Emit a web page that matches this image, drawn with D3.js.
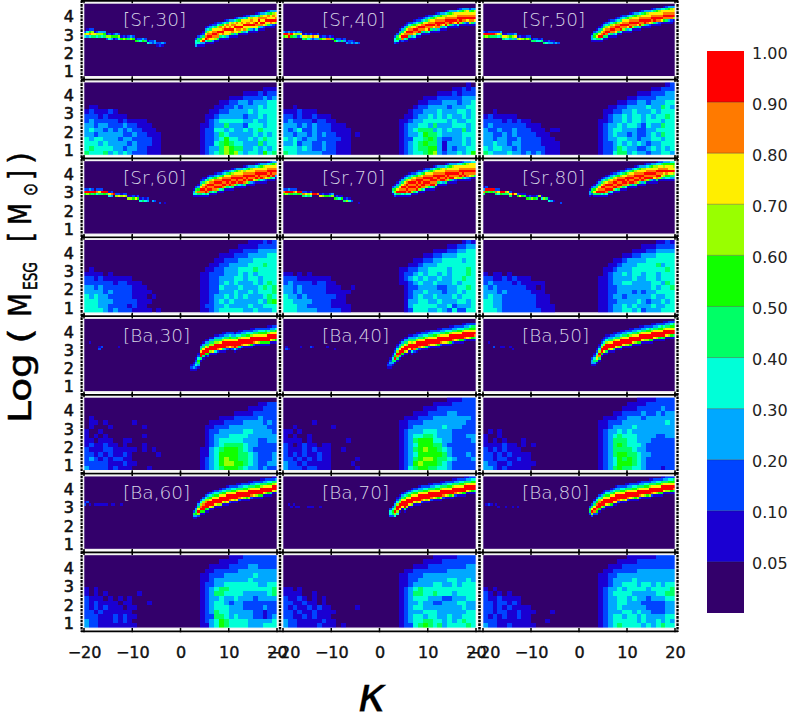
<!DOCTYPE html>
<html>
<head>
<meta charset="utf-8">
<script src="https://cdn.jsdelivr.net/npm/d3@7"></script>
<style>
  html, body { margin: 0; padding: 0; background: #fff; }
  svg { display: block; }
  text { font-family: "DejaVu Sans", sans-serif; fill: #111; }
</style>
</head>
<body>
<div id="chart"></div>
<script>
// colour bar
const thresholds = [0.05, 0.1, 0.2, 0.3, 0.4, 0.5, 0.6, 0.7, 0.8, 0.9];
const bandColors = ["#33006b", "#1a00d2", "#0044ff", "#00a8ff", "#00ffd8", "#00ff66", "#11ff00", "#99ff00", "#ffee00", "#ff7a00", "#ff0000"];
const barLabels = ["0.05", "0.10", "0.20", "0.30", "0.40", "0.50", "0.60", "0.70", "0.80", "0.90", "1.00"];
// middle of each band, indexed by the level character used in the panel strings
const levelChars = ".123456789a";
const levelValues = [0.02, 0.075, 0.15, 0.25, 0.35, 0.45, 0.55, 0.65, 0.75, 0.85, 0.95];

const elements = ["Sr", "Ba"];
const masses = [30, 40, 50, 60, 70, 80];
const xTicks = [-20, -10, 0, 10, 20];
const yTicks = [1, 2, 3, 4];

// upper panels, fine bins (0.5 in kappa, 0.125 in log M), one token per column: "firstRow:levels"
// "@n" jumps to column n, "*n" skips n columns
const sr30Ridge = "12:274 11:1483 11:2694 11:2785 12:185 12:274 12:375 12:374 12:365 13:172 13:274 13:163 13:261 13:362 13:274 14:16 14:27 14:16 14:25 14:37 14:26 15:16 15:25 15:24 15:36 15:25 16:14 16:23 16:22 16:33 17:21 17:22 17:31 17:2 @46 15:2443 14:25541 13:136831 12:1258a31 10:13589a41 10:2479a951 9:13589a851 9:2489a9831 8:12589a971 8:2478a9951 8:2598a851 8:3689a941 7:1489a8851 7:2598a8831 7:3889a871 7:3798a951 6:1489a8831 6:2598a9851 6:3688a971 6:3898a851 5:1488a8931 5:2589a8741 5:2889a851 5:3798a831 5:3889a821 4:1488a9841 4:259a8951 4:3798a931 4:3898a821 3:1489a871 3:2598a851 3:3688a931 3:3798a821 3:3889a71";
const sr40Ridge = "12:3a6 12:2a7 12:39a 12:2a6 12:385 12:275 12:372 12:284 13:185 13:286 13:174 13:283 13:192 13:183 13:283 14:16 14:27 14:27 14:19 14:29 14:16 15:16 15:24 15:23 15:15 15:23 16:13 16:22 16:23 16:12 17:3 17:2 @46 14:2442 13:25641 11:136851 10:1358a92 9:13589a41 8:1258a9a51 8:2479a951 8:2589a931 7:1368a9841 7:2479a951 6:1258a9a41 6:1369a951 6:2489a931 5:1358a9851 5:2479a9a41 5:2589a951 5:3689a831 4:1479a9951 4:2589aa931 4:3689a951 4:3789a831 3:1479a9a41 3:2589a971 3:3689aa51 3:3789a931 3:3889a821 2:1489a9a41 2:2589aa71 2:3689a951 2:3789a931 2:3889a821 2:2589a971 2:3689a951 2:3789a831";
const sr50Ridge = "12:2a6 12:1a7 12:2a6 12:2a5 12:2a5 12:295 12:284 12:375 13:185 13:184 13:274 13:263 13:275 13:383 14:17 14:28 14:17 14:16 14:27 14:26 15:15 15:25 15:24 15:14 15:25 16:15 16:14 16:23 16:13 16:12 17:3 17:2 @45 13:1331 12:25641 11:136851 10:1358a51 9:12589a41 8:13589a51 8:2479a951 7:13589a41 7:2479a951 7:2589a931 6:1369a9841 6:2479a951 5:1358a9a41 5:2489a971 5:2589a951 5:3689a831 4:1479a9a41 4:2589a971 4:3689a951 4:3789a831 3:1479a9a51 3:2589a971 3:3689aa51 3:3789a931 3:3889a821 2:1489a971 2:2589aa51 2:3689a931 2:3789a921 2:4889a81 1:1489a961 1:2589a951 1:3689a931 1:3789a921 1:3889a71";
const sr60Ridge = "12:2a6 12:2a7 12:3a6 12:2a5 13:a6 12:294 12:285 12:2a5 13:a6 13:a5 13:184 13:293 14:a 14:27 14:28 14:17 14:28 14:27 15:17 15:17 15:26 15:18 15:26 16:14 16:25 16:14 16:23 *1 17:3 17:2 *1 18:2 *1 18:1 @45 12:1341 11:25741 10:136951 8:1358a951 7:12589a941 7:1479a9a51 6:1358a9a941 6:2479a9a51 6:2589a9941 5:1369a9a951 5:2479a9a71 5:2589a9a41 4:1369a9a951 4:2489a9a71 4:2589aa951 4:3689a9a41 3:1479a9a951 3:2589a9a71 3:3689aa951 3:3789a9a41 3:3889a9a31 2:1479a9a951 2:2589aa971 2:3689a9a51 2:3789a9a31 2:3889a9821 1:1489a9a71 1:2589aa951 1:3689a9a41 1:3789a9931 1:3889a9821 0:1489a9a71 0:2589aa951 0:3689a9a41 0:3789a931";
const sr70Ridge = "12:296 12:2a7 12:3a5 12:2a6 12:295 12:285 13:a6 13:a5 13:295 13:284 13:175 13:284 14:a 14:a 14:9 14:18 14:27 14:16 14:16 14:25 14:37 15:16 15:25 15:14 15:16 16:15 16:27 16:14 17:2 *2 18:1 @45 11:2541 10:136742 9:1358a51 8:13589a51 7:1358a9a41 6:13589a9a51 6:2479a9a941 5:1358a9a9a41 5:2479a9a971 5:2589a9a951 4:1369a9a9a41 4:2479aa9a71 4:2589a9a951 3:1369a9aa941 3:2489a9a971 3:2589a9a951 3:3689aa9a41 2:1479a9a9a51 2:2589a9a971 2:3689aa951 2:3789a9a41 2:3889a9a31 1:1479a9a951 1:2589aa971 1:3689a9a51 1:3789a9a31 1:3889a9821 1:4889a971 0:1489a9a71 0:2589aa951 0:3689a9a41 0:3789a9931 0:3889a9821 0:4889a971 0:4889a951";
const sr80Ridge = "11:1395 11:2a6 12:a5 12:a6 12:a5 12:295 12:284 13:a6 13:a5 13:75 13:85 13:285 14:a 14:8 14:26 14:18 14:16 14:15 15:16 15:25 15:17 15:16 15:25 15:7 15:14 16:7 16:5 16:14 17:3 17:1 *2 18:2 @44 12:1331 11:2562 10:136851 9:1358a51 8:13589a51 7:1358a9a41 7:2479a9a51 6:1358a9a941 6:2479a9a51 5:13589a9a41 5:2479a9a71 5:2589a9a41 4:1369a9a951 4:2479a9a71 4:2589aa951 3:1368a9a941 3:2479aa971 3:2589a9a51 3:3689a9a31 2:1479a9a951 2:2589a9a71 2:3689aa951 2:3789a9a31 1:1378a9a951 1:2489a9a71 1:2589a9a51 1:3689a9a31 1:3789a9821 0:1478a9a951 0:2489a9a71 0:2589a9851 0:3679a8731 0:3689a9641 0:3688a8641 0:4688a8531 0:4678a7531";
const ba30Ridge = "@2 10:1 @6 12:12 @7 12:2 @14 12:1 @44 20:121 19:1231 17:123421 15:1246531 11:1358aa51 10:1358aa51 9:1358aa61 9:1357aa62 8:1357aa71 8:1357aa81 7:1357aaa41 7:1357aa92 7:2358aa81 6:1247aaa51 6:1358aaa31 6:2358aa92 6:2468aa81 6:2358aa92 6:1358aaa41 6:2468aa92 5:1247aaa51 5:1358aa92 5:2358aa81 5:2468aa81 5:2468aa71 4:1247aaa61 4:1358aa92 4:2358aa81 4:2468aa71 4:2468aa61 4:2468aa61 4:2568aa61 3:1247aaa61 3:1358aa81 3:2358aa71 3:2468aa61";
const ba40Ridge = "@1 12:12 13:1 @7 12:1 @11 12:2 @12 12:1 @18 12:1 @21 13:1 @43 19:121 17:12321 15:124531 13:1246a51 11:1247a951 10:1358aa51 9:1358aa61 8:1358aa71 8:1357aa81 7:1358aa81 7:1357aaa41 7:2358aa92 6:1247aaa51 6:1358aa92 6:2358aa81 6:2468aa71 5:1247aaa51 5:1358aa92 5:2358aa81 5:2468aa81 5:2468aa71 4:1247aaa61 4:1358aa92 4:2358aa81 4:2468aa81 4:2468aa71 3:1247aaa61 3:1358aa92 3:2358aa81 3:2468aa71 3:2468aa61 2:1247aaa61 2:1358aa92 2:2358aa81 2:2468aa71 2:2568aa61 2:2568a951";
const ba50Ridge = "@2 10:1 @4 12:2 @7 12:1 @8 12:1 @11 12:1 13:1 @45 17:2331 15:124531 13:1247851 11:1247a951 9:1247aa61 8:1247aa81 7:1247aaa51 7:1358aa71 7:2358aa81 6:1247aaa51 6:1358aa81 6:2358aa71 5:1247aaa51 5:1358aa81 5:2358aa71 5:2468aa71 4:1247aaa61 4:1358aa81 4:2358aa71 4:2468aa61 3:1247aaa61 3:1358aa81 3:2358aa71 3:2468aa71 3:2568aa61 2:1247aaa61 2:1358aa81 2:2358aa71 2:2468aa61 2:2568aa51 1:1247aaa61 1:1358aa81 1:2358aa71 1:2468aa61 1:2568aa51";
const ba60Ridge = "@0 11:12 11:2 12:1 @4 12:1 12:1 12:1 12:1 12:1 12:1 *1 12:1 12:1 @15 12:1 @45 15:2531 13:135631 11:1358a72 10:2479a61 9:2479aa61 8:2479aa61 7:1357aaa51 7:2468aa81 6:1358aaa71 6:2468aa81 6:2468aa71 5:1358aaa71 5:2468aa81 5:2468aa71 4:1358aaa81 4:2358aa92 4:2468aa81 4:2468aa71 3:1257aaa81 3:1358aa92 3:2358aa81 3:2468aa71 3:2468aa61 2:1257aaa71 2:1358aa92 2:2358aa81 2:2468aa71 2:2468aa61 1:1257aaa61 1:1358aa81 1:2358aa71 1:2468aa61 1:2468aa51 0:1257aa81 0:1358aa71";
const ba70Ridge = "@2 12:1 13:1 @4 12:1 13:1 @6 13:1 @10 13:1 13:1 13:1 @15 13:1 @44 14:2442 13:24652 11:1357a74 9:1247aa74 8:1257aa81 7:1358aa81 7:2468aaa51 6:1358aaa71 6:2468aa81 5:1358aaa71 5:2468aa81 5:2468aa71 4:1358aaa81 4:2358aa92 4:2468aa81 4:2468aa71 3:1257aaa81 3:1358aa92 3:2358aa81 3:2468aa71 3:2468aa61 2:1257aaa71 2:1358aa92 2:2358aa81 2:2468aa71 2:2468aa61 1:1257aaa71 1:1358aa92 1:2358aa81 1:2468aa71 1:2468aa61 0:1257aaa61 0:1358aa81 0:2358aa71 0:2468aa61 0:2468aa51";
const ba80Ridge = "@1 12:1 12:2 12:1 @5 12:1 13:1 @9 13:1 @12 13:1 @14 13:1 @44 13:2552 12:258a72 10:1358a92 9:2469a962 8:2479aa61 7:1358aa71 6:1258aaa51 6:2468aa81 6:2468aa71 5:1358aaa61 5:2468aa81 4:1358aaa81 4:2358aa92 4:2468aa81 4:2468aa71 3:1257aaa81 3:1358aa92 3:2358aa81 3:2468aa71 3:2468aa61 2:1257aaa71 2:1358aa92 2:2358aa81 2:2468aa71 2:2468aa61 1:1257aaa71 1:1358aa92 1:2358aa81 1:2468aa71 1:2468aa61 0:1257aaa61 0:1358aa81 0:2358aa71 0:2468aa71 0:2468aa61 0:2568a951";

// lower panels, coarse bins (1 in kappa, 0.25 in log M), rows from the top, "kappa<0 kappa>=0"
const sr30Cloud = ["", " .................111", " .............1112122", " ..........1112222323", " ........112233233344", ".11 .......1122323334344", "1211121 ......11223333434444", "222121111 .....112333332334344", "2322222121111 .....123444443343344", "33233222322111 ....1123353332444344", "343323232322111 ....1224434334345444", "3323333322322111 ....1223543333343434", "4344333233222211 ....1223464433434544", "4443433332322211 ....1224565443335344", "4544443323322111 ....1233576553343434", "5444534343222111 ....1234576743443645"];
const sr40Cloud = [" ..................1.", " ...............11212", " ............11121222", " .........11122222333", " ........112223332334", "..1 .......1223333233344", "1112111 ......12233343334434", "2212112111 .....112334343433434", "23222212211 ....1123344444343344", "3332323222111 ....1233443533344434", "32342232221111 ....1234555343433534", "33233232322111.1 ....1233465543333444", "43432332222211 ....1224456532233434", "33423322322111 ....1234565531333434", "44434322322111 ....1234556631323344", "54433333222111 ....1234456732334346"];
const sr50Cloud = [" ..................12", " ...............11222", " ............11122233", " ..........1122223333", " ........112233233344", " ......11223333433543", "..1 .....112233433343444", "1211111 .....123343443434454", "2222121211 ....1123343443444344", "232222222111 ....1233434432433544", "3223223222111.11 ....1234433322334444", "33223232222111 ....1234332322343544", "332332232222111 ....1233443323344344", "3343323322221111 ....1223434343233444", "4344332322222111 ....1223543322343434", "5433343323232111 ....1224553433233443"];
const sr60Cloud = [" ..............111212", " ............11112222", " ..........1112223333", " ........111222333344", " .......1122233344444", " ......11223333444544", ".1 .....112233344454444", "1111.1 ....1122233343434444", "2212111111 ....1122333443443444", "222222122111 ....1122343433343454", "3323222222111 ....1122433343334545", "33332322221111 ....1122333433434445", "4343322222111.1 ....1123343434333454", "44433322222111 ....1123434333334356", "4443322221211 ....1223343333433444", "44443232221111.1 ....1123444443343334"];
const sr70Cloud = [" .................121", " ..............112233", " ...........111223344", " .........11223334444", " .......1122334444344", " ......11233344444444", " ....1122334444344454", "11.1.1 ....1223434434344454", "2221111111 ....1234343343344544", "23222212211 ....1123433433343444", "332322222111..1 .....122333322334454", "33232222211111 .....123343332334344", "4332322222211 .....123433433343444", "4433332222111 .....133443343334434", "44433222221111 .....134444433423334", "44433332222211 .....124443343242244"];
const sr80Cloud = [" ................1121", " .............1112222", " ...........111223333", " .........11223334444", " .......1123333444444", " ......11233344445344", " .....112333444444454", "1.11.1 .....123343443443444", "2211212111 ....1123333433443444", "2322221211111 ....1123344333344354", "32322222211.1 ....1122333333343445", "3332322222111 ....1122333232334444", "34332222222111 ....1123323333343344", "44332222222111 ....1122333343233434", "443322222221111 ....1123343433343344", "444322222222111 ....1123344342333444"];
const ba30Cloud = ["", " ................1122", " ..............111222", " ...........111122222", ".1 ........111222223222", ".11.1.....1 ......11122223333232", ".1...1......1 .....112223333333322", "1..1 .....122333334433332", "1.1.1.......1 .....123334444333333", "11.111..11 .....123444443332233", "1211211.1...1 .....123455554332222", "21112211111.1.1 ....1134566654322222", "2212121121.....1 ....1134666655432223", "2321212211 ....1234676655432223", "22222111211 ....1234677665432233", "3222212111...1 ....1234566654332322"];
const ba40Cloud = [" ..............111222", " ...........111122222", " .........11122222222", " .......1112222332222", " .....111222333333332", "......1 ....1122233333333322", "..1.......1 ....1123333334333222", "11.1 ....1233344433322222", "1.1..1 ....1234455433322233", "1111.1.......1 ....1235666443322223", "21.1211.11 ....1234666553222222", "2111212111..1 ....1235676654322222", "2121211211 ....1234666665322232", "2212121211.....1 ....1235677655432223", "3221211111....1 ....1236766654322222", "3222122111.....1 ....1245665544322222"];
const ba50Cloud = [" ............11112222", " ..........1111222222", " .........11122222322", " .......1122223223233", " .....111223332333333", " ....1122233333333343", " ....1123333433333333", ".1.1 ....1233434333333333", "1..1 ....1234544433332233", "1.1.1...1 ....1235554433322222", "1111211.1.1 ....1235654443222222", "21212111 ....1235555433222222", "2212121111 ....1235665543322222", "2212211211 ....1234656543222222", "32211211111 ....1234666543222222", "3321211111 ....1235655443222122"];
const ba60Cloud = [" ..........1112222222", " ........111122222222", " ......11112222332222", " .....112222233333333", " ....1122233333343333", " ....1123333333433333", " ....1223344444443344", "1.1 ....1234554444444445", "1.1.1......1 ....1235544443333345", "2111.1.1.1 ....1233433433323333", "2121111.11...1 ....1234432332222222", "21212111.11 ....1234443332222322", "2212111111 ....1235443333322122", "22211121211 ....1225543433322123", "3221112121 ....1234654444333334", "32211111111 ....1134654444333444"];
const ba70Cloud = [" ...........111112222", " .........11112222222", " .......1112222222233", " .....112222222333333", " ....1122233333333333", " ....1122333333443343", " ....1123333443343444", "11.1 ....1234544444444444", "1111..1 ....1235544544434444", "21121.1.1 ....1234443332233344", "2211211.1 ....1233433223334433", "2121121211.....1 ....1234433333333433", "22121121111 ....1233344433333344", "2211212111 ....1234434433433444", "32211111211 ....1234455443434544", "32211112111.1 ....1224565453444454"];
const ba80Cloud = [" ..........1111112222", " ........111122222222", " ......11122222222222", " .....112222233333333", " ....1122333333333333", " ....1123333433333333", " ....1123344434434344", "1.1 ....1233434444344445", "21.1.1 ....1234444333334455", "21121111 ....1233443433233344", "22122121 ....1233443332222233", "2212121111 ....1233433333222233", "22122112111...1 ....1233344343322233", "2121211211 ....1234434434333344", "2221111111...1 ....1234444434334343", "32211211111 ....1234544443434544"];

const ridgeData = [sr30Ridge, sr40Ridge, sr50Ridge, sr60Ridge, sr70Ridge, sr80Ridge, ba30Ridge, ba40Ridge, ba50Ridge, ba60Ridge, ba70Ridge, ba80Ridge];
const cloudData = [sr30Cloud, sr40Cloud, sr50Cloud, sr60Cloud, sr70Cloud, sr80Cloud, ba30Cloud, ba40Cloud, ba50Cloud, ba60Cloud, ba70Cloud, ba80Cloud];

const yTop = 4.8, yBottom = 0.8;
const columnLeft = [84, 283, 483];
const columnRight = [277, 476, 675];
const rowStep = 78.8, firstRowTop = 3.3, panelHeight = 73;

const color = d3.scaleThreshold().domain(thresholds).range(bandColors);

function parseRidge(text) {
    const cells = [];
    let col = 0;
    text.split(" ").forEach(tok => {
        if (tok[0] === "@") { col = +tok.slice(1); return; }
        if (tok[0] === "*") { col += +tok.slice(1); return; }
        const [start, levels] = tok.split(":");
        levels.split("").forEach((c, i) => {
            cells.push({
                kappa: -20 + col * 0.5,
                logM: yTop - (+start + i) * 0.125,
                value: levelValues[levelChars.indexOf(c)]
            });
        });
        col++;
    });
    return { cells, dk: 0.5, dm: 0.125 };
}

function parseCloud(rows) {
    const cells = [];
    rows.forEach((row, r) => {
        const [left, right] = row.split(" ");
        const line = (left || "").padEnd(20, ".") + (right || "");
        line.split("").forEach((c, i) => {
            if (c === ".") return;
            cells.push({
                kappa: -20 + i,
                logM: yTop - r * 0.25,
                value: levelValues[levelChars.indexOf(c)]
            });
        });
    });
    return { cells, dk: 1, dm: 0.25 };
}

const svg = d3.select("#chart").append("svg").attr("width", 789).attr("height", 714);

function drawPanel(col, row, grid, label) {
    const top = firstRowTop + row * rowStep;
    const x = d3.scaleLinear().domain([-20, 20]).range([columnLeft[col], columnRight[col]]);
    const y = d3.scaleLinear().domain([yBottom, yTop]).range([top + panelHeight, top]);
    const g = svg.append("g");

    g.append("rect")
        .attr("x", x(-20)).attr("y", y(yTop))
        .attr("width", x(20) - x(-20)).attr("height", y(yBottom) - y(yTop))
        .attr("fill", bandColors[0]);

    g.selectAll("rect.cell").data(grid.cells).join("rect")
        .attr("class", "cell")
        .attr("x", d => Math.round(x(d.kappa)))
        .attr("y", d => Math.round(y(d.logM)))
        .attr("width", d => Math.round(x(d.kappa + grid.dk)) - Math.round(x(d.kappa)))
        .attr("height", d => Math.round(y(d.logM - grid.dm)) - Math.round(y(d.logM)))
        .attr("fill", d => color(d.value))
        .attr("shape-rendering", "crispEdges");

    g.append("rect")
        .attr("x", x(-20) - 0.5).attr("y", y(yTop) - 0.5)
        .attr("width", x(20) - x(-20) + 1).attr("height", y(yBottom) - y(yTop) + 1)
        .attr("fill", "none").attr("stroke", "#f4f4f4").attr("stroke-width", 1.6);

    if (label) {
        g.append("text")
            .attr("x", x(-20) + 39).attr("y", top + 23)
            .attr("font-size", 18.5).attr("font-weight", 200)
            .style("fill", "#d8d6e6")
            .text(`[${label}]`);
    }

    // tick marks on the black frame lines
    const frameY = [y(yTop) - 2.2, y(yBottom) + 2.2];
    xTicks.forEach(t => frameY.forEach(fy => {
        g.append("line").attr("x1", x(t)).attr("x2", x(t)).attr("y1", fy - 2.2).attr("y2", fy + 2.2)
            .attr("stroke", "#000").attr("stroke-width", 1.5);
    }));

    if (col === 0) {
        const axis = d3.axisLeft(y).tickValues(yTicks).tickSize(0).tickPadding(10).tickFormat(d3.format("d"));
        const ag = g.append("g").attr("transform", `translate(${x(-20)},0)`).call(axis);
        ag.select(".domain").remove();
        ag.selectAll("text").attr("font-size", 16).style("font-family", "DejaVu Sans")
            .attr("stroke", "#111").attr("stroke-width", 0.6).attr("dy", "0.25em");
    }
    if (row === 7) {
        const axis = d3.axisBottom(x).tickValues(xTicks).tickSize(0).tickPadding(19);
        const ag = g.append("g").attr("transform", `translate(0,${y(yBottom)})`).call(axis);
        ag.select(".domain").remove();
        ag.selectAll("text").attr("font-size", 16).style("font-family", "DejaVu Sans")
            .attr("stroke", "#111").attr("stroke-width", 0.4);
    }
}

// frame lines between the panels go under the panels' own white borders
const frame = svg.append("g");
d3.range(9).forEach(i => {
    const fy = firstRowTop + i * rowStep - 2.4;
    frame.append("line").attr("x1", 81).attr("x2", 678).attr("y1", fy).attr("y2", fy)
        .attr("stroke", "#000").attr("stroke-width", 1.8);
});
[81.8, 280, 479.5, 677.4].forEach(fx => {
    frame.append("line").attr("x1", fx).attr("x2", fx).attr("y1", 0.5).attr("y2", 632)
        .attr("stroke", "#000").attr("stroke-width", 2.6).attr("stroke-dasharray", "2.6 1");
});

masses.forEach((m, i) => {
    const col = i % 3;
    elements.forEach((el, e) => {
        const idx = e * 6 + i;
        const row = e * 4 + Math.floor(i / 3) * 2;
        drawPanel(col, row, parseRidge(ridgeData[idx]), `${el},${m}`);
        drawPanel(col, row + 1, parseCloud(cloudData[idx]), null);
    });
});

// colour bar
const barY = d3.scaleBand().domain(d3.range(bandColors.length)).range([613, 51]);
const bar = svg.append("g");
bar.selectAll("rect").data(bandColors).join("rect")
    .attr("x", 707).attr("width", 37)
    .attr("y", (d, i) => barY(i)).attr("height", barY.bandwidth())
    .attr("fill", d => d);
bar.selectAll("line").data(d3.range(1, bandColors.length)).join("line")
    .attr("x1", 707).attr("x2", 744)
    .attr("y1", i => barY(i) + barY.bandwidth()).attr("y2", i => barY(i) + barY.bandwidth())
    .attr("stroke", "#222").attr("stroke-opacity", 0.45).attr("stroke-width", 0.8);
bar.selectAll("text").data(barLabels).join("text")
    .attr("x", 752)
    .attr("y", (d, i) => barY(i) + 7.5)
    .attr("font-size", 16)
    .style("fill", "#222")
    .text(d => d);

// y title pieces, each placed at its own spot along the axis
const titleParts = ["Log", "(", "M", "ESG", "[", "M", "⊙", "]", ")"];
const titleStart = [423, 344, 317, 290, 242, 225, 196, 180, 164];
const titleLength = [70, 16, 24, 28, 10, 22, 13, 10, 12];
const titleSize = [32.5, 32.5, 32.5, 20, 32.5, 32.5, 20, 32.5, 32.5];
const titleShift = [0, 0, 0, 6, 0, 0, 6, 0, 0];
titleParts.forEach((t, i) => {
    svg.append("text")
        .attr("transform", `translate(${31 + titleShift[i]},${titleStart[i]}) rotate(-90)`)
        .attr("font-size", titleSize[i])
        .attr("textLength", titleLength[i])
        .attr("lengthAdjust", "spacingAndGlyphs")
        .attr("stroke", "#000").attr("stroke-width", 0.5)
        .style("fill", "#000")
        .text(t);
});

svg.append("text")
    .attr("x", 372).attr("y", 711)
    .attr("text-anchor", "middle")
    .attr("font-size", 48)
    .attr("font-style", "italic")
    .attr("stroke", "#000").attr("stroke-width", 0.3)
    .style("fill", "#000")
    .text("κ");
</script>
</body>
</html>
